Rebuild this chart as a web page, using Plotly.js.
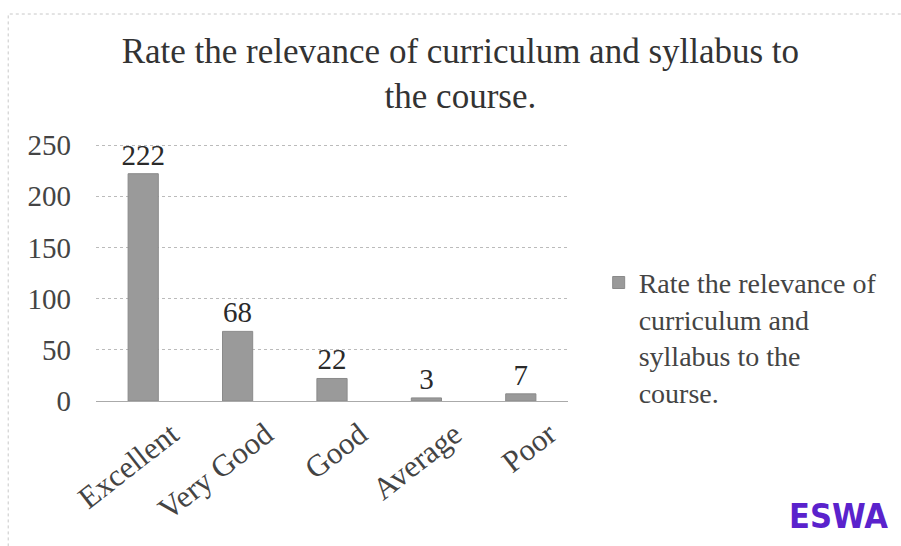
<!DOCTYPE html>
<html><head><meta charset="utf-8">
<script src="https://cdn.plot.ly/plotly-3.0.1.min.js"></script>
<style>html,body{margin:0;padding:0;background:#fff}#chart{width:901px;height:546px}</style>
</head><body><div id="chart"></div>
<script>
const categories = ["Excellent", "Very Good", "Good", "Average", "Poor"];
const values = [222, 68, 22, 3, 7];
const seriesName = "Rate the relevance of<br>curriculum and<br>syllabus to the<br>course.";
const yTicks = [0, 50, 100, 150, 200, 250];

const font = "Liberation Serif, Times New Roman, serif";
const trace = {
  type: "bar", x: categories, y: values, name: seriesName,
  marker: {color: "#9a9a9a", line: {color: "#8a8a8a", width: 1}},
  text: values.map(String), textposition: "outside", cliponaxis: false, constraintext: "none",
  textfont: {family: font, size: 29, color: "#2a2a2a"}
};
const layout = {
  width: 901, height: 546,
  margin: {l: 96, r: 333, t: 143, b: 145},
  paper_bgcolor: "#fff", plot_bgcolor: "#fff",
  font: {family: font, color: "#333"},
  title: {text: "Rate the relevance of curriculum and syllabus to<br>the course.",
    font: {family: font, size: 35, color: "#333"}, x: 0.511, xanchor: "center", y: 0.885, yanchor: "top"},
  bargap: 0.68,
  showlegend: true,
  legend: {x: 1.065, xanchor: "left", y: 0.555, yanchor: "top", valign: "top",
    font: {family: font, size: 28, color: "#444"}, itemwidth: 20, tracegroupgap: 0},
  xaxis: {tickangle: -38, tickfont: {family: font, size: 31, color: "#444"},
    showline: true, linecolor: "#aaa", linewidth: 1, ticks: "", showgrid: false,
    ticklabelshift: 28, ticklabelstandoff: 2},
  yaxis: {range: [0, 252], tickvals: yTicks, tickfont: {family: font, size: 29, color: "#444"},
    showgrid: true, gridcolor: "#bbb", griddash: "dot", gridwidth: 1, zeroline: false,
    ticks: "", ticklabelstandoff: 24},
  shapes: [{type: "rect", xref: "paper", yref: "paper", x0: -0.186, x1: 1.8, y0: -0.6, y1: 1.5,
    line: {color: "#c8c8c8", width: 1, dash: "dot"}}],
  annotations: [{text: "<b>ESWA</b>", xref: "paper", yref: "paper", x: 1.465, y: -0.445,
    xanchor: "left", yanchor: "middle", showarrow: false,
    font: {family: "DejaVu Sans Condensed, sans-serif", size: 34, color: "#5a22cc"}}]
};
Plotly.newPlot("chart", [trace], layout, {displayModeBar: false, staticPlot: true});
</script></body></html>
